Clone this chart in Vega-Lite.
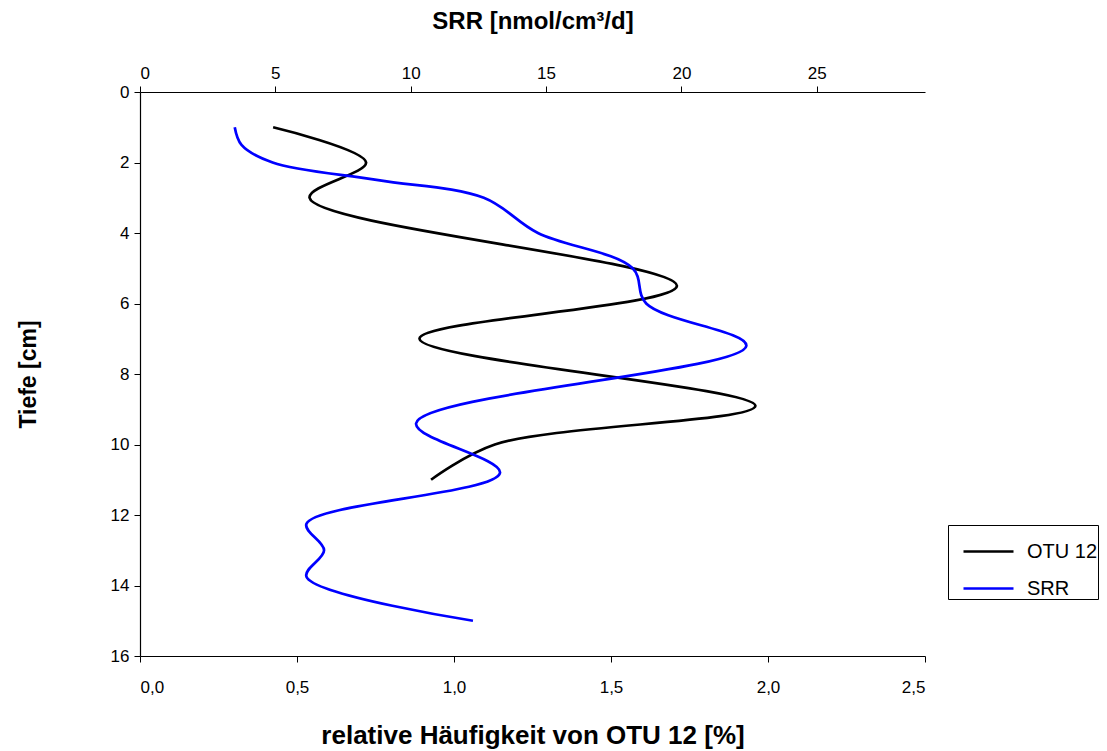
{
  "$schema": "https://vega.github.io/schema/vega-lite/v6.json",
  "width": 785,
  "height": 564,
  "autosize": {"type": "none"},
  "padding": {"left": 140, "top": 92, "right": 182, "bottom": 95},
  "background": "white",
  "config": {
    "view": {"stroke": null},
    "font": "Liberation Sans",
    "axis": {
      "grid": false,
      "domainColor": "black",
      "domainWidth": 1.2,
      "tickColor": "black",
      "tickSize": 6,
      "labelColor": "black",
      "labelFont": "Liberation Sans",
      "labelFontSize": 17,
      "titleFont": "Liberation Sans",
      "titleFontSize": 23,
      "titleFontWeight": "bold",
      "titleColor": "black"
    },
    "legend": {"labelFont": "Liberation Sans"}
  },
  "datasets": {
    "otu": [
      {"series": "OTU 12", "depth": 1, "otu": 0.424},
      {"series": "OTU 12", "depth": 2, "otu": 0.72},
      {"series": "OTU 12", "depth": 3, "otu": 0.54},
      {"series": "OTU 12", "depth": 5.5, "otu": 1.71},
      {"series": "OTU 12", "depth": 7, "otu": 0.89},
      {"series": "OTU 12", "depth": 8.9, "otu": 1.96},
      {"series": "OTU 12", "depth": 10, "otu": 1.13},
      {"series": "OTU 12", "depth": 11, "otu": 0.927}
    ],
    "srr": [
      {"series": "SRR", "depth": 1, "srr": 3.5},
      {"series": "SRR", "depth": 1.5, "srr": 3.75},
      {"series": "SRR", "depth": 2, "srr": 4.9},
      {"series": "SRR", "depth": 2.5, "srr": 8.8},
      {"series": "SRR", "depth": 3, "srr": 12.7},
      {"series": "SRR", "depth": 4, "srr": 14.7},
      {"series": "SRR", "depth": 5, "srr": 18.2},
      {"series": "SRR", "depth": 6, "srr": 18.7},
      {"series": "SRR", "depth": 7.2, "srr": 22.4},
      {"series": "SRR", "depth": 9.4, "srr": 10.2},
      {"series": "SRR", "depth": 10.8, "srr": 13.3},
      {"series": "SRR", "depth": 12.25, "srr": 6.15},
      {"series": "SRR", "depth": 13, "srr": 6.8},
      {"series": "SRR", "depth": 13.75, "srr": 6.15},
      {"series": "SRR", "depth": 15, "srr": 12.3}
    ]
  },
  "layer": [
    {
      "data": {"name": "otu"},
      "mark": {"type": "line", "interpolate": "catmull-rom", "strokeWidth": 2.7},
      "encoding": {
        "x": {
          "field": "otu", "type": "quantitative",
          "scale": {"domain": [0, 2.5], "nice": false, "zero": false},
          "axis": {
            "orient": "bottom",
            "title": "relative Häufigkeit von OTU 12 [%]",
            "titleFontSize": 26,
            "values": [0, 0.5, 1, 1.5, 2, 2.5],
            "labelExpr": "replace(format(datum.value, '.1f'), '.', ',')",
            "labelPadding": 17,
            "titlePadding": 27
          }
        },
        "y": {
          "field": "depth", "type": "quantitative",
          "scale": {"domain": [0, 16], "reverse": true, "nice": false, "zero": false},
          "axis": {
            "title": "Tiefe [cm]",
            "values": [0, 2, 4, 6, 8, 10, 12, 14, 16],
            "labelPadding": 5,
            "titlePadding": 70
          }
        },
        "order": {"field": "depth", "type": "quantitative"},
        "color": {
          "field": "series", "type": "nominal",
          "scale": {"domain": ["OTU 12", "SRR"], "range": ["#000000", "#0000ff"]},
          "legend": {
            "title": null,
            "orient": "none",
            "legendX": 808,
            "legendY": 433,
            "strokeColor": "black",
            "fillColor": "white",
            "padding": 0,
            "symbolOffset": 14,
            "symbolType": "stroke",
            "symbolStrokeWidth": 2.7,
            "symbolSize": 2500,
            "labelFontSize": 20,
            "labelColor": "black",
            "labelOffset": 12,
            "rowPadding": -14
          }
        }
      }
    },
    {
      "data": {"name": "srr"},
      "mark": {"type": "line", "interpolate": "catmull-rom", "strokeWidth": 2.7},
      "encoding": {
        "x": {
          "field": "srr", "type": "quantitative",
          "scale": {"domain": [0, 29], "nice": false, "zero": false},
          "axis": {
            "orient": "top",
            "title": "SRR [nmol/cm³/d]",
            "titleFontSize": 24,
            "values": [0, 5, 10, 15, 20, 25],
            "labelPadding": 4,
            "titlePadding": 31
          }
        },
        "y": {"field": "depth", "type": "quantitative"},
        "order": {"field": "depth", "type": "quantitative"},
        "color": {"field": "series", "type": "nominal"}
      }
    }
  ],
  "resolve": {"scale": {"x": "independent"}}
}
